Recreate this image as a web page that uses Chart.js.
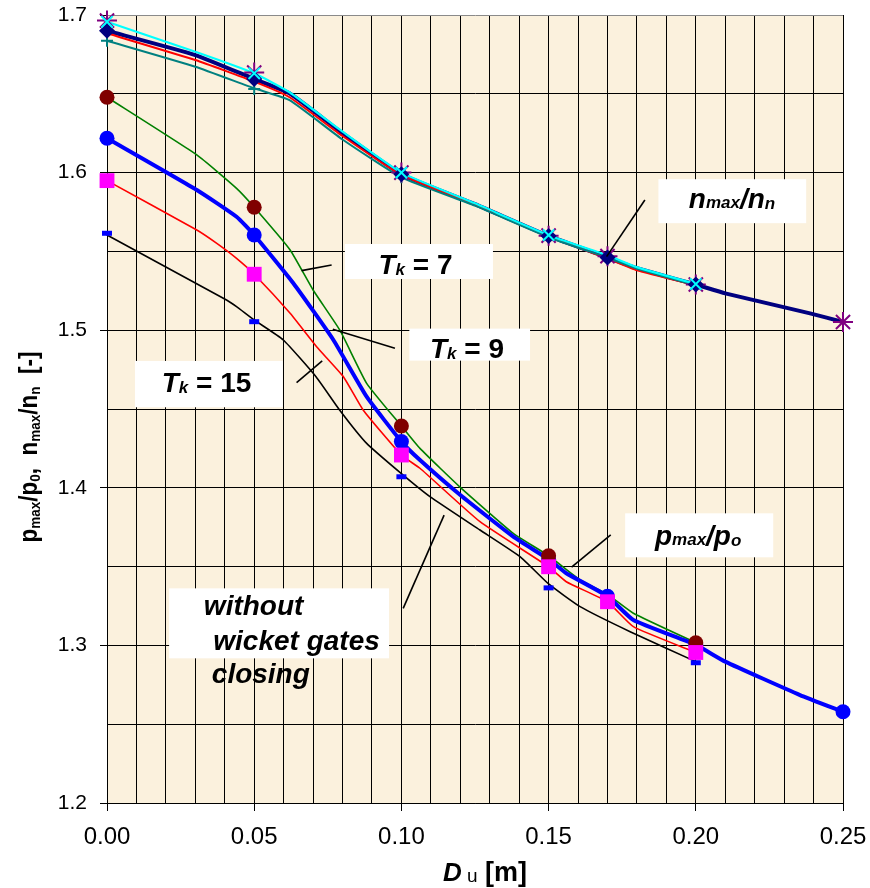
<!DOCTYPE html>
<html><head><meta charset="utf-8">
<script src="https://cdn.jsdelivr.net/npm/chart.js@4"></script>
<style>html,body{margin:0;padding:0;background:#fff}#wrap{width:870px;height:888px}</style>
</head><body><div id="wrap"><canvas id="c" width="870" height="888"></canvas></div>
<script>
// ---------- data ----------
const xTickLabels = ['0.00','0.05','0.10','0.15','0.20','0.25'];
const yTickLabels = ['1.2','1.3','1.4','1.5','1.6','1.7'];

// n_max/n_n group
const navyX = [0, 0.03, 0.05, 0.062, 0.08, 0.1, 0.125, 0.15, 0.17, 0.18, 0.2, 0.21, 0.2388, 0.25];
const navyY = [1.690, 1.6746, 1.6594, 1.6503, 1.625, 1.599, 1.5800, 1.5598, 1.5462, 1.5393, 1.5290, 1.5234, 1.5107, 1.5052];
const navyMarkX = [0, 0.05, 0.1, 0.15, 0.17, 0.2];
const navyMarkY = [1.690, 1.6594, 1.599, 1.5598, 1.5462, 1.5290];

const cyanX = [0, 0.03, 0.05, 0.062, 0.08, 0.1, 0.125, 0.15, 0.17, 0.18, 0.2];
const cyanY = [1.6957, 1.6767, 1.663, 1.651, 1.626, 1.600, 1.5805, 1.5603, 1.5475, 1.540, 1.5293];
const cyanMarkX = [0, 0.05, 0.1, 0.15, 0.2];
const cyanMarkY = [1.6957, 1.663, 1.600, 1.5603, 1.5293];

const redUpX = [0, 0.03, 0.05, 0.062, 0.08, 0.1, 0.125, 0.15, 0.17, 0.18, 0.2];
const redUpY = [1.6884, 1.6714, 1.6577, 1.6478, 1.6232, 1.5985, 1.5795, 1.5595, 1.5455, 1.538, 1.5285];

const tealX = [0, 0.03, 0.05, 0.062, 0.08, 0.1, 0.125, 0.15, 0.17, 0.18, 0.2];
const tealY = [1.6837, 1.6672, 1.6535, 1.646, 1.621, 1.597, 1.5790, 1.559, 1.546, 1.539, 1.5285];
const tealMarkX = [0, 0.05, 0.1, 0.15, 0.17, 0.2];
const tealMarkY = [1.6837, 1.653, 1.597, 1.559, 1.546, 1.5285];

const starX = [0, 0.05, 0.1, 0.15, 0.17, 0.2, 0.25];
const starY = [1.6965, 1.6635, 1.600, 1.5600, 1.547, 1.529, 1.5052];

// p_max/p_0 group
const greenX = [0, 0.0305, 0.044, 0.05, 0.0622, 0.070, 0.0791, 0.0882, 0.1, 0.1063, 0.12, 0.138, 0.15, 0.1607, 0.17, 0.1788, 0.2];
const greenY = [1.6478, 1.6112, 1.590, 1.578, 1.5509, 1.5255, 1.500, 1.4663, 1.4392, 1.425, 1.4003, 1.3711, 1.3569, 1.3415, 1.3324, 1.3204, 1.3017];
const maroonX = [0, 0.05, 0.1, 0.15, 0.2];
const maroonY = [1.6478, 1.578, 1.4392, 1.3569, 1.3017];

const blueX = [0, 0.0305, 0.044, 0.05, 0.0633, 0.0769, 0.0882, 0.1, 0.1063, 0.12, 0.138, 0.15, 0.156, 0.17, 0.1788, 0.2, 0.21, 0.2354, 0.25];
const blueY = [1.6218, 1.589, 1.572, 1.5604, 1.5298, 1.4938, 1.4578, 1.4293, 1.4176, 1.3954, 1.369, 1.3546, 1.3458, 1.3312, 1.3161, 1.3003, 1.2897, 1.2685, 1.2579];
const blueMarkX = [0, 0.05, 0.1, 0.15, 0.17, 0.2, 0.25];
const blueMarkY = [1.6218, 1.5604, 1.4293, 1.3546, 1.3312, 1.3003, 1.2579];

const redLoX = [0, 0.0305, 0.0373, 0.044, 0.05, 0.0622, 0.0712, 0.0803, 0.087, 0.1, 0.1063, 0.1267, 0.15, 0.156, 0.17, 0.1788, 0.2];
const redLoY = [1.5949, 1.5636, 1.5551, 1.5456, 1.5355, 1.5107, 1.4895, 1.4705, 1.4494, 1.4208, 1.4124, 1.3785, 1.3499, 1.3404, 1.3277, 1.3119, 1.2955];
const magentaX = [0, 0.05, 0.1, 0.15, 0.17, 0.2];
const magentaY = [1.5949, 1.5355, 1.4208, 1.3499, 1.3277, 1.2955];

const blackX = [0, 0.0406, 0.044, 0.05, 0.0599, 0.071, 0.079, 0.0882, 0.1, 0.1097, 0.1267, 0.1403, 0.15, 0.1607, 0.1777, 0.2];
const blackY = [1.5604, 1.5192, 1.515, 1.5065, 1.4938, 1.4705, 1.4494, 1.4282, 1.409, 1.3944, 1.3732, 1.3563, 1.339, 1.3246, 1.3087, 1.2897];
const dashX = [0, 0.05, 0.1, 0.15, 0.2];
const dashY = [1.5615, 1.5054, 1.407, 1.3365, 1.289];

// ---------- helpers ----------
const pts = (xs, ys) => xs.map((x, i) => ({x: x, y: ys[i]}));
const lineDs = (xs, ys, color, width, order) => ({
  data: pts(xs, ys), borderColor: color, borderWidth: width, pointRadius: 0,
  showLine: true, fill: false, tension: 0.15, borderJoinStyle: 'round', borderCapStyle: 'round', order: order, clip: 4
});
const markDs = (xs, ys, style, radius, fillC, strokeC, bw, order) => ({
  data: pts(xs, ys), showLine: false, pointStyle: style, pointRadius: radius,
  pointBackgroundColor: fillC, pointBorderColor: strokeC, pointBorderWidth: bw, order: order, clip: false
});

const F = '"Liberation Sans", Arial, sans-serif';

function drawRich(ctx, segs, x, y, align) {
  let w = 0;
  segs.forEach(s => { ctx.font = s.f; w += ctx.measureText(s.t).width; });
  let cx = align === 'center' ? x - w / 2 : x;
  ctx.textAlign = 'left'; ctx.textBaseline = 'alphabetic'; ctx.fillStyle = '#000';
  segs.forEach(s => { ctx.font = s.f; ctx.fillText(s.t, cx, y + (s.dy || 0)); cx += ctx.measureText(s.t).width; });
}

const BI = 'italic bold 28px ' + F, BIs = 'italic bold 17px ' + F, B = 'bold 28px ' + F;
const notes = [
  {box: [0.1873, 1.5958, 0.2375, 1.5679], line: [0.1827, 1.5826, 0.1697, 1.5467],
   text: [{x: 0.2123, y: 1.5773, align: 'center', segs: [{t: 'n', f: BI}, {t: 'max', f: BIs}, {t: '/n', f: BI}, {t: 'n', f: BIs, dy: 1}]}]},
  {box: [0.0808, 1.5547, 0.1311, 1.5325], line: [0.0763, 1.5414, 0.0661, 1.5378],
   text: [{x: 0.0922, y: 1.5357, segs: [{t: 'T', f: BI}, {t: 'k', f: BIs, dy: 1}, {t: ' = 7', f: B}]}]},
  {box: [0.1027, 1.5010, 0.1437, 1.4807], line: [0.0978, 1.4885, 0.0767, 1.5006],
   text: [{x: 0.1097, y: 1.4822, segs: [{t: 'T', f: BI}, {t: 'k', f: BIs, dy: 1}, {t: ' = 9', f: B}]}]},
  {box: [0.0095, 1.4805, 0.0597, 1.4511], line: [0.0644, 1.4667, 0.0731, 1.4805],
   text: [{x: 0.0186, y: 1.4610, segs: [{t: 'T', f: BI}, {t: 'k', f: BIs, dy: 1}, {t: ' = 15', f: B}]}]},
  {box: [0.1760, 1.3838, 0.2263, 1.3559], line: [0.1711, 1.3701, 0.1578, 1.3496],
   text: [{x: 0.2008, y: 1.3637, align: 'center', segs: [{t: 'p', f: BI}, {t: 'max', f: BIs}, {t: '/p', f: BI}, {t: 'o', f: BIs, dy: 1}]}]},
  {box: [0.0211, 1.3362, 0.0958, 1.2918], line: [0.1006, 1.3235, 0.1145, 1.3827],
   text: [{x: 0.0329, y: 1.3193, segs: [{t: 'without', f: BI}]},
          {x: 0.0361, y: 1.2971, segs: [{t: 'wicket gates', f: BI}]},
          {x: 0.0356, y: 1.2759, segs: [{t: 'closing', f: BI}]}]}
];

const bgPlugin = {
  id: 'bg',
  beforeDraw(chart) {
    const {ctx, chartArea: a} = chart;
    ctx.save(); ctx.fillStyle = '#fff'; ctx.fillRect(0, 0, chart.width, chart.height);
    ctx.fillStyle = '#FBF1DD'; ctx.fillRect(a.left, a.top, a.right - a.left, a.bottom - a.top);
    ctx.restore();
  }
};

const notesPlugin = {
  id: 'notes',
  afterDraw(chart) {
    const ctx = chart.ctx, xs = chart.scales.x, ys = chart.scales.y;
    const X = v => xs.getPixelForValue(v), Y = v => ys.getPixelForValue(v);
    ctx.save();
    notes.forEach(n => {
      const b = n.box;
      ctx.fillStyle = '#fff';
      ctx.fillRect(X(b[0]), Y(b[1]), X(b[2]) - X(b[0]), Y(b[3]) - Y(b[1]));
      const l = n.line;
      ctx.strokeStyle = '#000'; ctx.lineWidth = 1.6;
      ctx.beginPath(); ctx.moveTo(X(l[0]), Y(l[1])); ctx.lineTo(X(l[2]), Y(l[3])); ctx.stroke();
      n.text.forEach(t => drawRich(ctx, t.segs, X(t.x), Y(t.y), t.align));
    });
    // x-axis title
    const a = chart.chartArea;
    drawRich(ctx, [{t: 'D', f: 'italic bold 26px ' + F}, {t: ' u', f: '19px ' + F, dy: 1}, {t: ' [m]', f: 'bold 27px ' + F}], (a.left + a.right) / 2 + 10, 881, 'center');
    // y-axis title (rotated)
    ctx.save();
    ctx.translate(37, 447);
    ctx.rotate(-Math.PI / 2);
    ctx.scale(0.9, 1);
    const T = 'bold 25px ' + F, S = 'bold 15px ' + F;
    drawRich(ctx, [{t: 'p', f: T}, {t: 'max', f: S, dy: 3}, {t: '/p', f: T}, {t: '0', f: S, dy: 3}, {t: ',  n', f: T},
                   {t: 'max', f: S, dy: 3}, {t: '/n', f: T}, {t: 'n', f: S, dy: 3}, {t: '  [-]', f: T}], 0, 0, 'center');
    ctx.restore();
    ctx.restore();
  }
};

const isMul = (v, step) => Math.abs(v / step - Math.round(v / step)) < 1e-6;
const noPad = s => { s.paddingLeft = 0; s.paddingRight = 0; s.paddingTop = 0; s.paddingBottom = 0; };

new Chart(document.getElementById('c'), {
  type: 'scatter',
  data: {
    datasets: [
      // markers (top)
      markDs(dashX, dashY, 'line', 5, '#0000FF', '#0000FF', 5, 1),
      markDs(magentaX, magentaY, 'rect', 10.5, '#FF00FF', '#FF00FF', 0, 2),
      markDs(maroonX, maroonY, 'circle', 7.5, '#800000', '#800000', 0, 3),
      markDs(blueMarkX, blueMarkY, 'circle', 7.5, '#0000FF', '#0000FF', 0, 4),
      markDs(cyanMarkX, cyanMarkY, 'crossRot', 8, '#00FFFF', '#00FFFF', 2, 5),
      markDs(navyMarkX, navyMarkY, 'rectRot', 8, '#000080', '#000080', 0, 6),
      markDs(starX, starY, 'star', 10, '#800080', '#800080', 2, 7),
      markDs(tealMarkX, tealMarkY, 'cross', 6, '#008080', '#008080', 2, 8),
      // lines
      lineDs(blueX, blueY, '#0000FF', 4, 10),
      lineDs(greenX, greenY, '#008000', 1.6, 11),
      lineDs(redLoX, redLoY, '#FF0000', 1.6, 12),
      lineDs(blackX, blackY, '#000000', 1.6, 13),
      lineDs(cyanX, cyanY, '#00FFFF', 2.2, 14),
      lineDs(tealX, tealY, '#008080', 2, 15),
      lineDs(redUpX, redUpY, '#FF0000', 2, 16),
      lineDs(navyX, navyY, '#000080', 4, 17)
    ]
  },
  options: {
    responsive: false, animation: false, devicePixelRatio: 1,
    layout: {padding: {top: 15, right: 27, left: 0, bottom: 0}},
    plugins: {legend: {display: false}, tooltip: {enabled: false}},
    scales: {
      x: {
        type: 'linear', min: 0, max: 0.25,
        afterFit: s => { s.height = 85; noPad(s); },
        ticks: {
          stepSize: 0.01, autoSkip: false, maxRotation: 0, padding: 12,
          color: '#000', font: {family: F, size: 24},
          callback: v => isMul(v, 0.05) ? xTickLabels[Math.round(v / 0.05)] : ''
        },
        grid: {color: '#000', lineWidth: 1, tickLength: 8,
               tickColor: c => (c.tick && isMul(c.tick.value, 0.05)) ? '#000' : 'rgba(0,0,0,0)'},
        border: {color: '#000', width: 1}
      },
      y: {
        type: 'linear', min: 1.2, max: 1.7,
        afterFit: s => { s.width = 107; noPad(s); },
        ticks: {
          stepSize: 0.05, autoSkip: false, padding: 13,
          color: '#000', font: {family: F, size: 21},
          callback: v => isMul(v, 0.1) ? yTickLabels[Math.round((v - 1.2) / 0.1)] : ''
        },
        grid: {color: c => (c.tick && Math.abs(c.tick.value - 1.7) < 1e-6) ? '#8a8a8a' : '#000', lineWidth: 1, tickLength: 7,
               tickColor: c => (c.tick && isMul(c.tick.value, 0.1)) ? '#000' : 'rgba(0,0,0,0)'},
        border: {color: '#000', width: 1}
      }
    }
  },
  plugins: [bgPlugin, notesPlugin]
});
</script>
</body></html>
